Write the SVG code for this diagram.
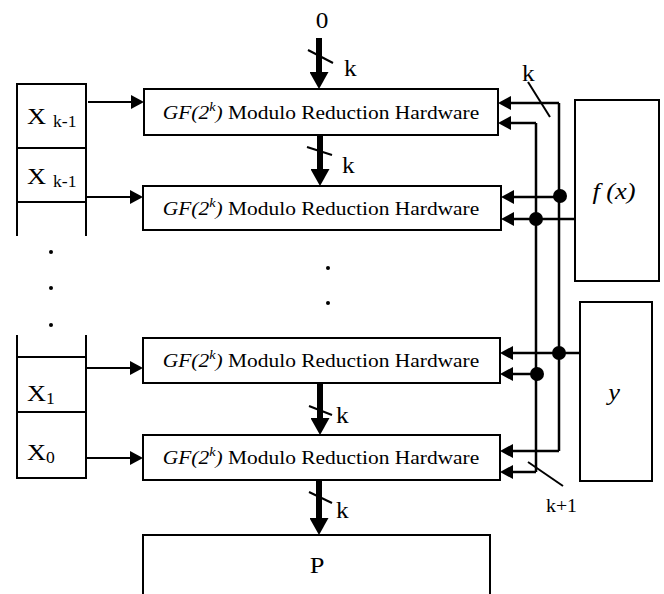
<svg xmlns="http://www.w3.org/2000/svg" width="664" height="594" viewBox="0 0 664 594">
<style>
  .ln { stroke: #000; stroke-width: 2; fill: none; }
  .bus { stroke: #000; stroke-width: 2.5; fill: none; }
  .thick { stroke: #000; stroke-width: 6; fill: none; }
  .box { stroke: #000; stroke-width: 2; fill: #fff; }
  .t { font-family: "Liberation Serif", "Times New Roman", serif; fill: #000; }
  .it { font-style: italic; }
</style>
<defs>
  <marker id="ah" markerUnits="userSpaceOnUse" markerWidth="14" markerHeight="14" refX="0" refY="7" orient="auto">
    <path d="M0,0 L13,7 L0,14 z" fill="#000"/>
  </marker>
  <marker id="th" markerUnits="userSpaceOnUse" markerWidth="17" markerHeight="19" refX="0" refY="9.5" orient="auto">
    <path d="M0,0 L17,9.5 L0,19 z" fill="#000"/>
  </marker>
</defs>

<!-- register column -->
<g id="registers">
  <path class="ln" d="M17,236 V84 H86 V236 M17,148 H86 M17,202 H86"/>
  <path class="ln" d="M17,335 V478 H86 V335 M17,357 H86 M17,412 H86"/>
  <text class="t" font-size="24" transform="translate(27,124) scale(1.1,1)">X</text>
  <text class="t" font-size="16" transform="translate(53,127) scale(1.1,1)">k-1</text>
  <text class="t" font-size="24" transform="translate(27,184) scale(1.1,1)">X</text>
  <text class="t" font-size="16" transform="translate(53,187) scale(1.1,1)">k-1</text>
  <text class="t" font-size="24" transform="translate(27,401) scale(1.1,1)">X</text>
  <text class="t" font-size="16" transform="translate(46,404) scale(1.1,1)">1</text>
  <text class="t" font-size="24" transform="translate(27,460) scale(1.1,1)">X</text>
  <text class="t" font-size="16" transform="translate(46,463) scale(1.1,1)">0</text>
  <circle cx="51" cy="252" r="2" fill="#000"/>
  <circle cx="51" cy="288" r="2" fill="#000"/>
  <circle cx="51" cy="325" r="2" fill="#000"/>
</g>

<!-- modulo reduction hardware blocks -->
<g id="block1">
  <rect class="box" x="144" y="89" width="354" height="46"/>
  <text class="t" font-size="19.5" text-anchor="middle" transform="translate(321,119) scale(1.1,1)"><tspan class="it">GF(2</tspan><tspan class="it" font-size="13" dy="-8">k</tspan><tspan class="it" dy="8">)</tspan> Modulo Reduction Hardware</text>
</g>
<g id="block2">
  <rect class="box" x="143" y="186" width="358" height="44"/>
  <text class="t" font-size="19.5" text-anchor="middle" transform="translate(321,215) scale(1.1,1)"><tspan class="it">GF(2</tspan><tspan class="it" font-size="13" dy="-8">k</tspan><tspan class="it" dy="8">)</tspan> Modulo Reduction Hardware</text>
</g>
<g id="block3">
  <rect class="box" x="143" y="338" width="357" height="45"/>
  <text class="t" font-size="19.5" text-anchor="middle" transform="translate(321,367) scale(1.1,1)"><tspan class="it">GF(2</tspan><tspan class="it" font-size="13" dy="-8">k</tspan><tspan class="it" dy="8">)</tspan> Modulo Reduction Hardware</text>
</g>
<g id="block4">
  <rect class="box" x="143" y="435" width="357" height="45"/>
  <text class="t" font-size="19.5" text-anchor="middle" transform="translate(321,464) scale(1.1,1)"><tspan class="it">GF(2</tspan><tspan class="it" font-size="13" dy="-8">k</tspan><tspan class="it" dy="8">)</tspan> Modulo Reduction Hardware</text>
</g>

<g id="middle-dots">
  <circle cx="328" cy="268" r="2" fill="#000"/>
  <circle cx="328" cy="303" r="2" fill="#000"/>
</g>

<g id="fx">
  <rect class="box" x="575" y="100" width="84" height="181"/>
  <text class="t it" font-size="24" text-anchor="middle" transform="translate(614,199) scale(1.1,1)">f (x)</text>
</g>
<g id="y">
  <rect class="box" x="580" y="302" width="72" height="179"/>
  <text class="t it" font-size="24" text-anchor="middle" transform="translate(614,400) scale(1.1,1)">y</text>
</g>
<g id="P">
  <path class="ln" d="M143,600 V535 H490 V600"/>
  <text class="t" font-size="24" text-anchor="middle" transform="translate(317,573) scale(1.1,1)">P</text>
</g>

<g id="zero">
  <text class="t" font-size="23" text-anchor="middle" transform="translate(322,28) scale(1.1,1)">0</text>
</g>

<!-- connectors -->
<g id="connectors">
  <!-- register inputs -->
  <line class="ln" x1="88" y1="102" x2="131" y2="102" marker-end="url(#ah)"/>
  <line class="ln" x1="86" y1="197" x2="130" y2="197" marker-end="url(#ah)"/>
  <line class="ln" x1="86" y1="368" x2="130" y2="368" marker-end="url(#ah)"/>
  <line class="ln" x1="86" y1="458" x2="130" y2="458" marker-end="url(#ah)"/>

  <!-- thick k-bit chains -->
  <line class="thick" x1="319" y1="38" x2="319" y2="72" marker-end="url(#th)"/>
  <line class="thick" x1="320" y1="135" x2="320" y2="169" marker-end="url(#th)"/>
  <line class="thick" x1="320" y1="383" x2="320" y2="418" marker-end="url(#th)"/>
  <line class="thick" x1="319" y1="480" x2="319" y2="518" marker-end="url(#th)"/>
  <line class="ln" x1="308" y1="50" x2="333" y2="63"/>
  <line class="ln" x1="307" y1="147" x2="332" y2="155"/>
  <line class="ln" x1="309" y1="406" x2="332" y2="415"/>
  <line class="ln" x1="309" y1="492" x2="332" y2="503"/>
  <text class="t" font-size="23" transform="translate(344,76) scale(1.1,1)">k</text>
  <text class="t" font-size="23" transform="translate(342,173) scale(1.1,1)">k</text>
  <text class="t" font-size="23" transform="translate(336,423) scale(1.1,1)">k</text>
  <text class="t" font-size="23" transform="translate(336,518) scale(1.1,1)">k</text>

  <!-- buses -->
  <path class="bus" d="M559,103 V451"/>
  <path class="bus" d="M536,123 V472"/>
  <line class="bus" x1="559" y1="103" x2="511" y2="103" marker-end="url(#ah)"/>
  <line class="bus" x1="536" y1="123" x2="511" y2="123" marker-end="url(#ah)"/>
  <line class="bus" x1="559" y1="197" x2="514" y2="197" marker-end="url(#ah)"/>
  <line class="bus" x1="575" y1="219" x2="514" y2="219" marker-end="url(#ah)"/>
  <line class="bus" x1="580" y1="353" x2="513" y2="353" marker-end="url(#ah)"/>
  <line class="bus" x1="536" y1="374" x2="513" y2="374" marker-end="url(#ah)"/>
  <line class="bus" x1="559" y1="451" x2="513" y2="451" marker-end="url(#ah)"/>
  <line class="bus" x1="536" y1="472" x2="513" y2="472" marker-end="url(#ah)"/>
  <circle cx="560" cy="196" r="7" fill="#000"/>
  <circle cx="536" cy="219" r="7" fill="#000"/>
  <circle cx="559" cy="353" r="7" fill="#000"/>
  <circle cx="537" cy="374" r="7" fill="#000"/>
  <line class="ln" x1="528" y1="82" x2="550" y2="117"/>
  <text class="t" font-size="23" transform="translate(522,81) scale(1.1,1)">k</text>
  <line class="ln" x1="528" y1="462" x2="563" y2="486"/>
  <text class="t" font-size="18" transform="translate(546,512) scale(1.1,1)">k+1</text>
</g>
</svg>
